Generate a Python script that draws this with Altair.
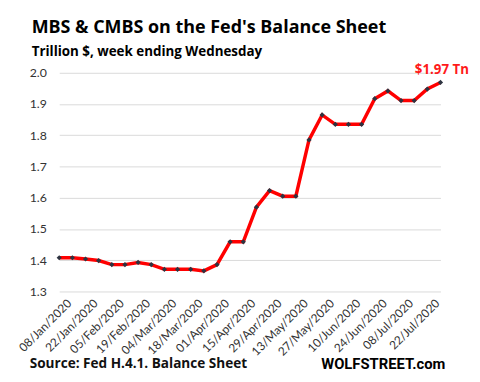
import altair as alt
import pandas as pd

weeks = [
    "01/Jan/2020", "08/Jan/2020", "15/Jan/2020", "22/Jan/2020", "29/Jan/2020",
    "05/Feb/2020", "12/Feb/2020", "19/Feb/2020", "26/Feb/2020", "04/Mar/2020",
    "11/Mar/2020", "18/Mar/2020", "25/Mar/2020", "01/Apr/2020", "08/Apr/2020",
    "15/Apr/2020", "22/Apr/2020", "29/Apr/2020", "06/May/2020", "13/May/2020",
    "20/May/2020", "27/May/2020", "03/Jun/2020", "10/Jun/2020", "17/Jun/2020",
    "24/Jun/2020", "01/Jul/2020", "08/Jul/2020", "15/Jul/2020", "22/Jul/2020",
]
values = [
    1.408, 1.408, 1.404, 1.399, 1.386,
    1.386, 1.393, 1.386, 1.371, 1.371,
    1.371, 1.366, 1.386, 1.459, 1.459,
    1.570, 1.623, 1.605, 1.605, 1.785,
    1.865, 1.835, 1.835, 1.835, 1.917,
    1.942, 1.911, 1.911, 1.948, 1.969,
]
tick_labels = weeks[1::2]
y_ticks = [1.3, 1.4, 1.5, 1.6, 1.7, 1.8, 1.9, 2.0]
last_label = "$1.97 Tn"
title_text = "MBS & CMBS on the Fed's Balance Sheet"
subtitle_text = "Trillion $, week ending Wednesday"
source_text = "Source: Fed H.4.1. Balance Sheet"
brand_text = "WOLFSTREET.com"

df = pd.DataFrame({"week": weeks, "value": values})

base = alt.Chart(df).encode(
    x=alt.X(
        "week:O",
        sort=None,
        scale=alt.Scale(type="point", padding=0),
        axis=alt.Axis(
            values=tick_labels,
            title=None,
            labelAngle=315,
            labelAlign="right",
            labelBaseline="top",
            labelPadding=6,
            labelOffset=-7,
            labelFont="Lato",
            labelFontSize=12,
            labelColor="#333333",
            domain=False,
            ticks=False,
            grid=False,
            labelOverlap=False,
        ),
    ),
    y=alt.Y(
        "value:Q",
        scale=alt.Scale(domain=[1.3, 2.0], nice=False, zero=False),
        axis=alt.Axis(
            values=y_ticks,
            format=".1f",
            title=None,
            labelFont="Lato",
            labelFontSize=12.5,
            labelColor="#333333",
            labelPadding=13,
            domain=False,
            ticks=False,
            grid=True,
            gridColor="#d9d9d9",
            gridWidth=1,
        ),
    ),
)

line = base.mark_line(color="#FF0000", strokeWidth=3.5)
points = base.mark_point(shape="diamond", filled=True, size=28, color="#2d3340", opacity=1)
end_label = base.transform_filter(alt.datum.week == weeks[-1]).mark_text(
    text=last_label,
    align="left",
    baseline="alphabetic",
    dx=-26,
    dy=-9,
    font="Open Sans",
    fontSize=13.5,
    fontWeight="bold",
    color="#FF1A1A",
)

notes = pd.DataFrame({"t": [source_text]})
source = alt.Chart(notes).mark_text(
    align="left", baseline="alphabetic", font="Open Sans", fontSize=13.8,
    fontWeight="bold", color="#111111",
).encode(text="t:N", x=alt.value(-30), y=alt.value(300))

brand_df = pd.DataFrame({"t": [brand_text]})
brand = alt.Chart(brand_df).mark_text(
    align="left", baseline="alphabetic", font="Roboto", fontSize=15,
    fontWeight="bold", color="#000000",
).encode(text="t:N", x=alt.value(266), y=alt.value(301))

chart = alt.layer(line, points, end_label, source, brand).properties(
    width=387,
    height=222,
    padding={"left": 52, "top": 63, "right": 32, "bottom": 81},
    autosize=alt.AutoSizeParams(type="none"),
    title=alt.TitleParams(
        text=title_text,
        subtitle=subtitle_text,
        anchor="start",
        frame="group",
        orient="top",
        dx=-28,
        offset=3,
        font="Open Sans",
        fontSize=18.2,
        fontWeight="bold",
        color="#000000",
        subtitleFont="Open Sans",
        subtitleFontSize=13.6,
        subtitleFontWeight="bold",
        subtitleColor="#000000",
        subtitlePadding=8,
    ),
).configure_view(stroke=None)

chart.save("out.html", embed_options={"renderer": "svg", "actions": False})
